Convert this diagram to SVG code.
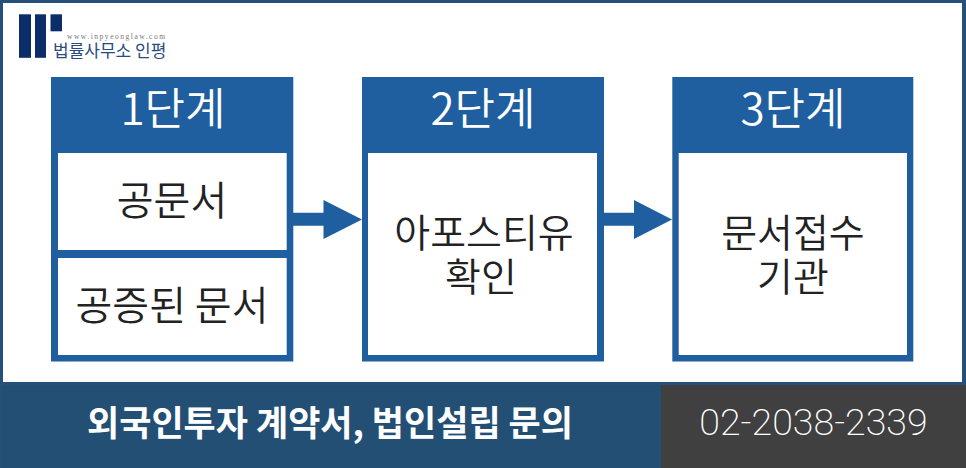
<svg xmlns="http://www.w3.org/2000/svg" width="966" height="468" viewBox="0 0 966 468">
<style>
.k{font-family:"Noto Sans CJK KR","Noto Sans",sans-serif;text-anchor:middle}
.h{font-size:44px;fill:#fff;font-weight:350}
.b{font-size:40px;fill:#222;font-weight:350}
.c{font-size:39px}
.box{fill:#1f5f9f}
.in{fill:#fff}
</style>
<rect width="966" height="468" fill="#24507a"/>
<rect x="3" y="3" width="959" height="379" fill="#fff"/>
<g id="logo">
<rect x="19" y="14.300" width="12" height="43.500" fill="#0b2d69"/>
<rect x="35" y="14.300" width="11" height="43.500" fill="#0b2d69"/>
<rect x="50.500" y="14.300" width="11.500" height="17" fill="#0b2d69"/>
<text x="67" y="38.500" font-family="Liberation Serif,serif" font-size="7.500" letter-spacing="1.520" fill="#777">www.inpyeonglaw.com</text>
<text x="53" y="57" font-family="Noto Sans CJK KR,sans-serif" font-size="17" fill="#2a4a7f">법률사무소 인평</text>
</g>
<g id="step1">
<rect class="box" x="51" y="77" width="242.300" height="284.500"/>
<rect class="in" x="58" y="153" width="228.700" height="97"/>
<rect class="in" x="58" y="258" width="228.700" height="97"/>
<text class="k h" x="173" y="125">1단계</text>
<text class="k b" x="172" y="215">공문서</text>
<text class="k b" x="172" y="320">공증된 문서</text>
</g>
<g id="step2">
<rect class="box" x="362" y="77" width="242" height="284.500"/>
<rect class="in" x="368" y="153" width="229" height="202"/>
<text class="k h" x="483" y="125">2단계</text>
<text class="k b c" x="484" y="247">아포스티유</text>
<text class="k b c" x="481" y="291">확인</text>
</g>
<g id="step3">
<rect class="box" x="672.300" y="77" width="241" height="284.500"/>
<rect class="in" x="678.700" y="153" width="228.300" height="202"/>
<text class="k h" x="793" y="125">3단계</text>
<text class="k b c" x="793" y="247">문서접수</text>
<text class="k b c" x="793" y="291">기관</text>
</g>
<g id="connectors">
<path class="box" d="M293 212.700H323.500V200L362 219.500L323.500 239V225.700H293Z"/>
<path class="box" d="M604 212.700H634V200L672 219.500L634 239V225.700H604Z"/>
</g>
<g id="footer">
<rect x="1" y="385" width="660" height="83" fill="#244f75"/>
<rect x="661" y="385" width="305" height="83" fill="#404040"/>
<text class="k" x="330" y="436" font-size="35" font-weight="700" fill="#fff">외국인투자 계약서, 법인설립 문의</text>
<text x="813.500" y="435" font-family="Roboto,sans-serif" font-size="37.500" font-weight="200" fill="#fff" text-anchor="middle">02-2038-2339</text>
</g>
</svg>
